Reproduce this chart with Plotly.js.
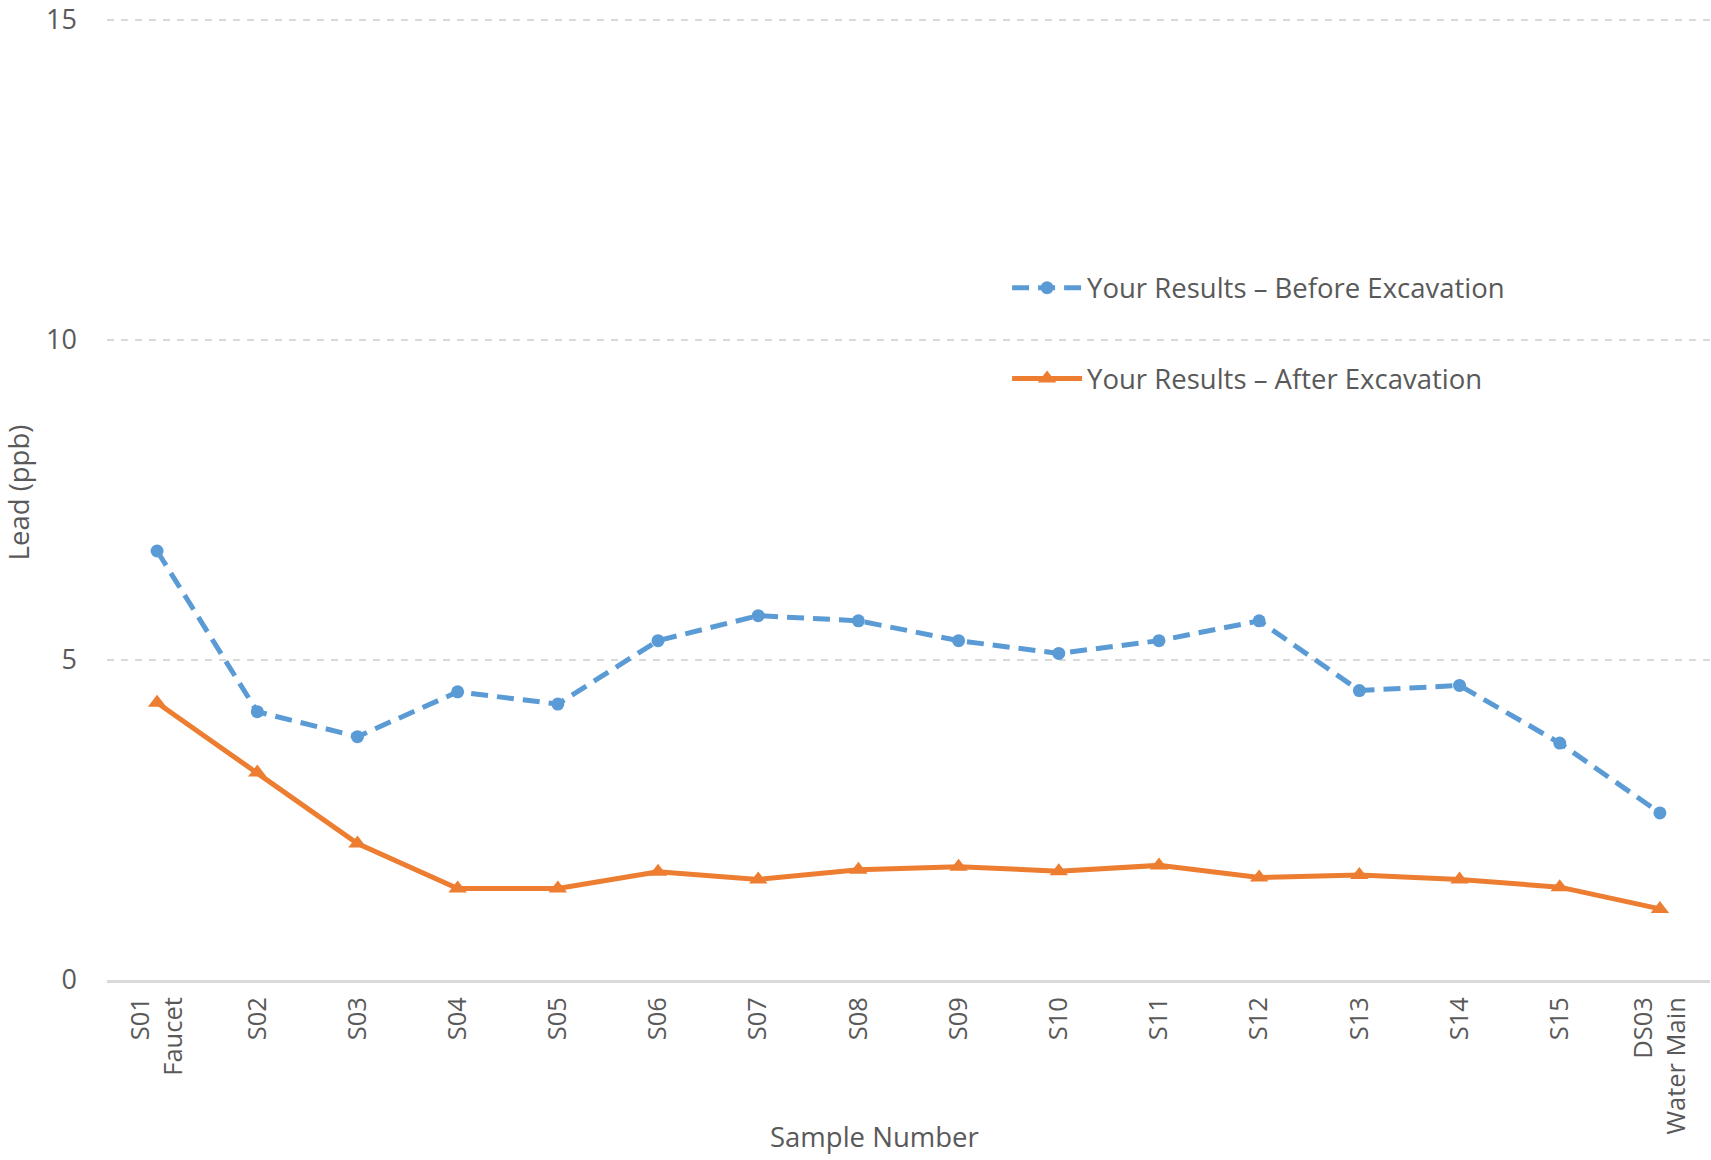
<!DOCTYPE html>
<html>
<head>
<meta charset="utf-8">
<script src="https://cdn.plot.ly/plotly-3.0.1.min.js"></script>
<style>html,body{margin:0;padding:0;background:#fff;}#chart{width:1711px;height:1160px;}</style>
</head>
<body>
<div id="chart"></div>
<script>
const categories = ["S01<br>Faucet","S02","S03","S04","S05","S06","S07","S08","S09","S10","S11","S12","S13","S14","S15","DS03<br>Water Main"];
const beforeValues = [6.70,4.19,3.80,4.50,4.31,5.30,5.69,5.61,5.30,5.10,5.30,5.61,4.52,4.60,3.70,2.61];
const afterValues  = [4.33,3.24,2.13,1.43,1.43,1.69,1.57,1.72,1.77,1.70,1.79,1.60,1.64,1.57,1.45,1.11];
const seriesNames = ["Your Results – Before Excavation","Your Results – After Excavation"];
const yTicks = [0,5,10,15];
const xTitle = "Sample Number";
const yTitle = "Lead (ppb)";

const FONT = "Open Sans, Noto Sans, sans-serif";
const TXT = "#595959";

const traces = [
  {
    x: categories, y: beforeValues, name: seriesNames[0], type: "scatter", mode: "lines+markers",
    legendgroup: "a", cliponaxis: false,
    line: {color: "#5b9bd5", width: 5, dash: "17px,9px"},
    marker: {symbol: "circle", size: 13, color: "#5b9bd5"}
  },
  {
    x: categories, y: afterValues, name: seriesNames[1], type: "scatter", mode: "lines+markers",
    legendgroup: "b", cliponaxis: false,
    line: {color: "#ed7d31", width: 5},
    marker: {symbol: "triangle-up", size: 16, color: "#ed7d31"}
  }
];

const layout = {
  width: 1711, height: 1160,
  paper_bgcolor: "#ffffff", plot_bgcolor: "#ffffff",
  margin: {l: 107, r: 1, t: 5, b: 180},
  font: {family: FONT, color: TXT},
  showlegend: true,
  legend: {
    x: 0.5615, y: 0.735, xanchor: "left", yanchor: "top",
    font: {family: FONT, size: 27.5, color: TXT},
    itemwidth: 70, traceorder: "grouped", tracegroupgap: 52,
    bgcolor: "rgba(0,0,0,0)"
  },
  xaxis: {
    type: "category",
    range: [-0.5, 15.5],
    tickangle: -90,
    tickfont: {family: FONT, size: 25.5, color: TXT},
    showgrid: false, zeroline: false,
    showline: true, linecolor: "#d9d9d9", linewidth: 3,
    ticks: "", ticklabelstandoff: 4,
    fixedrange: true
  },
  yaxis: {
    range: [0, 15.227], tickvals: yTicks, ticktext: yTicks.map(String),
    tickfont: {family: FONT, size: 27, color: TXT},
    ticklabeloverflow: "allow",
    showgrid: true, gridcolor: "#d9d9d9", griddash: "7px,7px", gridwidth: 2,
    zeroline: false, showline: false, ticks: "", ticklabelstandoff: 29,
    title: {text: yTitle, font: {family: FONT, size: 27.5, color: TXT}, standoff: 16},
    fixedrange: true
  },
  annotations: [
    {
      text: xTitle, xref: "paper", yref: "paper", x: 0.4785, y: -0.161,
      xanchor: "center", yanchor: "middle", showarrow: false,
      font: {family: FONT, size: 27.5, color: TXT}
    }
  ]
};

Plotly.newPlot("chart", traces, layout, {displayModeBar: false, staticPlot: true});
</script>
</body>
</html>
